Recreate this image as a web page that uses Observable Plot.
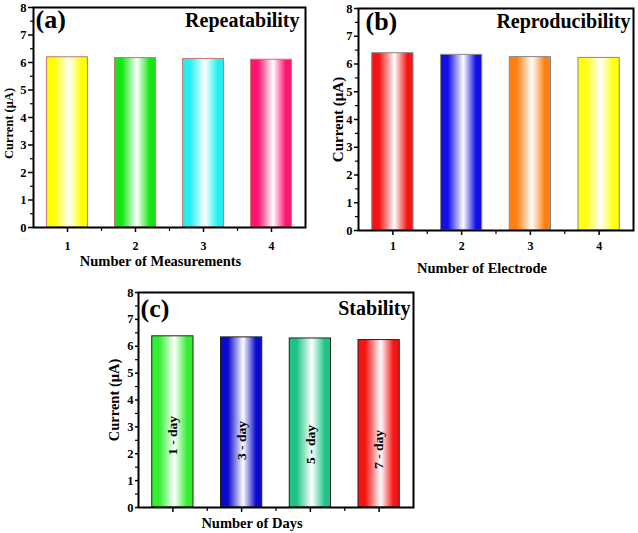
<!DOCTYPE html>
<html><head><meta charset="utf-8">
<script src="https://cdn.jsdelivr.net/npm/d3@7"></script>
<script src="https://cdn.jsdelivr.net/npm/@observablehq/plot@0.6"></script>
<style>
body{margin:0;background:#fff;}
#wrap{position:relative;width:638px;height:533px;overflow:hidden;background:#fff;}
#wrap svg{position:absolute;}
</style></head><body><div id="wrap"></div>
<script>
// ---- data ----
const categories = [1, 2, 3, 4];
const repeatability = [6.19, 6.16, 6.13, 6.10];
const reproducibility = [6.39, 6.33, 6.25, 6.22];
const stability = [6.37, 6.33, 6.29, 6.23];
const dayLabels = ["1 - day", "3 - day", "5 - day", "7 - day"];
const dayLabelY = [2.68, 2.49, 2.34, 2.16];
const yTicks = [0, 1, 2, 3, 4, 5, 6, 7, 8];
const yMinor = [0.5, 1.5, 2.5, 3.5, 4.5, 5.5, 6.5, 7.5];
const xMinor = [1.5, 2.5, 3.5];
const colorsA = ["#ffff00", "#14e614", "#22f0f0", "#ff1470"];
const colorsB = ["#f51414", "#1010e6", "#ff8010", "#ffff10"];
const colorsC = ["#33ee33", "#0a0acc", "#1ec487", "#f51414"];

const FONT = "'Liberation Serif', 'Times New Roman', serif";
const wrap = document.getElementById("wrap");
const blank = () => "";

function panel(cfg) {
  const data = categories.map((c, i) => ({
    x: c, v: cfg.values[i], fill: `url(#${cfg.id}-g${i})`,
    label: cfg.barLabels ? cfg.barLabels[i] : "", ly: cfg.labelY ? cfg.labelY[i] : 0
  }));
  const marks = [
    Plot.rectY(data, {x1: d => d.x - 0.3, x2: d => d.x + 0.3, y1: 0, y2: "v", fill: "fill", stroke: cfg.barStroke, strokeWidth: 1}),
    Plot.axisY({ticks: yTicks, tickSize: cfg.yTickSize, tickPadding: cfg.yTickPad, tickFormat: d => d, label: null, fontSize: 12.5, fontWeight: "bold", strokeWidth: 1.5}),
    Plot.axisY({ticks: yMinor, tickSize: 3, tickFormat: blank, label: null, strokeWidth: 1.2}),
    Plot.axisX({ticks: categories, tickSize: 5, tickPadding: cfg.xTickPad, tickFormat: cfg.xLabels ? (d => d) : blank, label: null, fontSize: 12, fontWeight: "bold", strokeWidth: 1.5}),
    Plot.axisX({ticks: xMinor, tickSize: 4, tickFormat: blank, label: null, strokeWidth: 1.2}),
    Plot.frame({stroke: "black", strokeWidth: 2}),
    Plot.text([cfg.tag], {frameAnchor: "top-left", textAnchor: "start", lineAnchor: "top", dx: cfg.tagDx, dy: cfg.tagDy, fontSize: 26, fontWeight: "bold", fill: "black"}),
    Plot.text([cfg.title], {frameAnchor: "top-right", textAnchor: "end", lineAnchor: "top", dx: cfg.titleDx, dy: cfg.titleDy, fontSize: 20, fontWeight: "bold", fill: "black"}),
    Plot.text([cfg.xTitle], {frameAnchor: "bottom", textAnchor: "middle", lineAnchor: "middle", dx: cfg.xtDx, dy: cfg.xtDy, fontSize: 14.5, fontWeight: "bold", fill: "black"}),
    Plot.text(["Current (\u03bcA)"], {frameAnchor: "left", textAnchor: "middle", lineAnchor: "middle", rotate: -90, dx: cfg.ytDx, dy: cfg.ytDy, fontSize: cfg.ytSize, fontWeight: "bold", fill: "black"})
  ];
  if (cfg.barLabels) {
    marks.push(Plot.text(data, {x: "x", y: "ly", text: "label", textAnchor: "middle", rotate: -90, fontSize: 13.5, fontWeight: "bold", fill: "black"}));
  }
  const svg = Plot.plot({
    width: cfg.width, height: cfg.height,
    marginLeft: cfg.ml, marginRight: cfg.mr, marginTop: cfg.mt, marginBottom: cfg.mb,
    x: {domain: [0.5, 4.5], axis: null},
    y: {domain: [0, 8], axis: null},
    color: {type: "identity"},
    style: {fontFamily: FONT, fontWeight: "bold", fontSize: "13px", color: "black", background: "transparent", overflow: "visible"},
    marks
  });
  const defs = d3.select(svg).insert("defs", ":first-child");
  cfg.colors.forEach((c, i) => {
    const g = defs.append("linearGradient").attr("id", `${cfg.id}-g${i}`)
      .attr("x1", "0").attr("x2", "1").attr("y1", "0").attr("y2", "0");
    [[0, c], [0.18, c], [0.55, "#ffffff"], [0.86, c], [1, c]].forEach(([o, col]) =>
      g.append("stop").attr("offset", o).attr("stop-color", col));
  });
  svg.style.left = cfg.left + "px";
  svg.style.top = cfg.top + "px";
  wrap.appendChild(svg);
}

panel({
  id: "pa", left: 0, top: 0, width: 318, height: 270, ml: 33, mr: 13, mt: 7, mb: 43,
  values: repeatability, colors: colorsA, barStroke: "#c87070",
  yTickSize: 5, yTickPad: 2, xLabels: true, xTickPad: 9,
  tag: "(a)", tagDx: 2, tagDy: 2.5, title: "Repeatability", titleDx: -6, titleDy: 5.5,
  xTitle: "Number of Measurements", xtDx: -9, xtDy: 34, ytDx: -25, ytDy: 6, ytSize: 12.5
});
panel({
  id: "pb", left: 318, top: 0, width: 320, height: 275, ml: 40, mr: 5, mt: 8, mb: 45,
  values: reproducibility, colors: colorsB, barStroke: "#8a8a8a",
  yTickSize: 4, yTickPad: 2, xLabels: true, xTickPad: 6,
  tag: "(b)", tagDx: 7, tagDy: 3.5, title: "Reproducibility", titleDx: -3, titleDy: 4.8,
  xTitle: "Number of Electrode", xtDx: -14, xtDy: 38, ytDx: -20.5, ytDy: 0, ytSize: 15
});
panel({
  id: "pc", left: 100, top: 280, width: 320, height: 253, ml: 38, mr: 7, mt: 12, mb: 26,
  values: stability, colors: colorsC, barStroke: "#222222",
  yTickSize: 3, yTickPad: 2, xLabels: false, xTickPad: 6,
  tag: "(c)", tagDx: 2, tagDy: 6.5, title: "Stability", titleDx: -3, titleDy: 7.8,
  xTitle: "Number of Days", xtDx: -24, xtDy: 16, ytDx: -24, ytDy: 0, ytSize: 14.5,
  barLabels: dayLabels, labelY: dayLabelY
});
</script>
</body></html>
